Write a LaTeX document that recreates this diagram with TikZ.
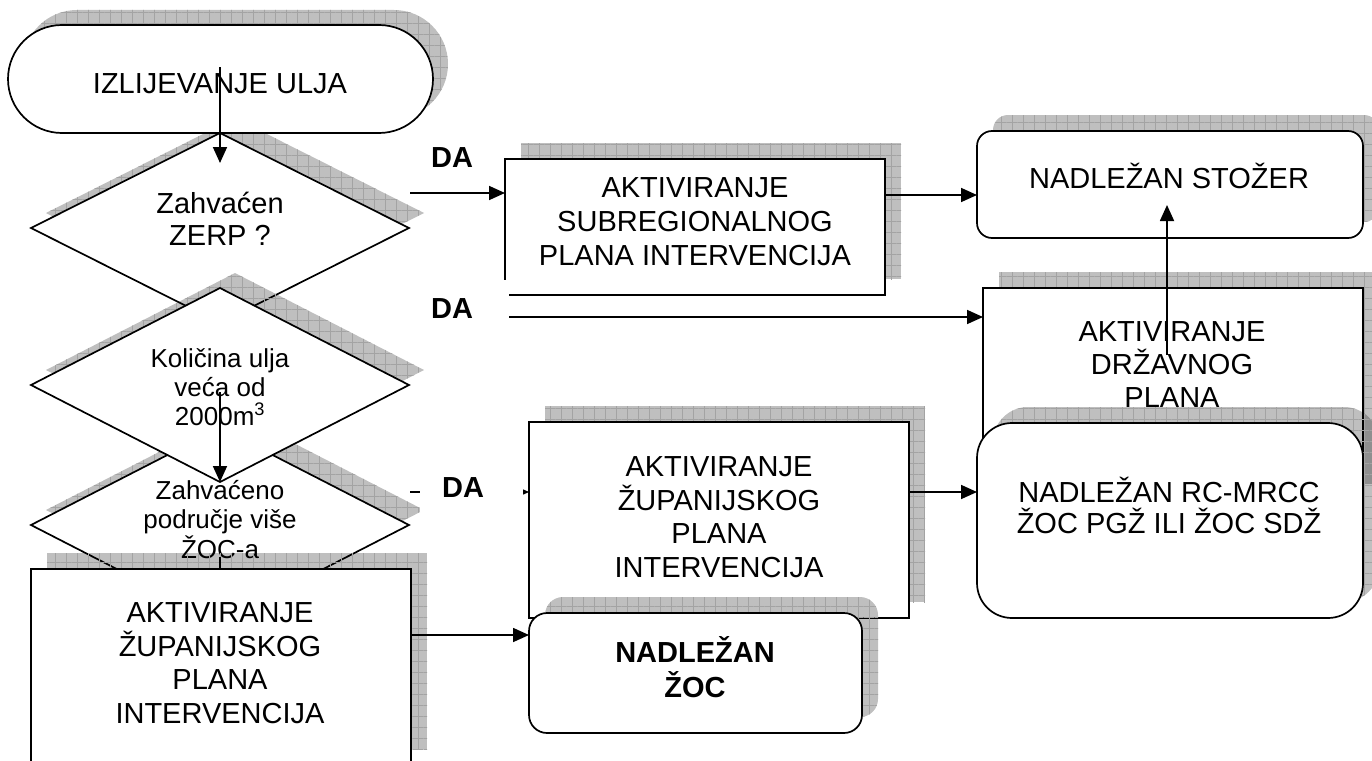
\documentclass[tikz,border=0pt]{standalone}
\usepackage{fontspec}
\setmainfont{Liberation Sans}
\usetikzlibrary{shapes.geometric,shapes.misc,shadows,patterns.meta,arrows.meta}
\begin{document}
\begin{tikzpicture}[x=1pt,y=-1pt,
  shp/.style={draw=black, line width=1.7pt, fill=white, inner sep=0pt, outer sep=0pt},
  sh/.style={
    general shadow={shadow xshift=#1, shadow yshift=#1, draw=none, fill=black, fill opacity=0.25},
    general shadow={shadow xshift=#1, shadow yshift=#1, draw=none,
      pattern={Hatch[angle=0,distance=11pt,line width=0.6pt]}, pattern color=black!36}},
  sh/.default=16pt,
  box/.style={shp, rectangle},
  rbox/.style={shp, rectangle, rounded corners=#1},
  dia/.style={shp, diamond, shape aspect=2},
  txt/.style={anchor=base, align=center, inner sep=0pt, font=\fontsize{29}{33.5}\selectfont},
  stxt/.style={anchor=base, align=center, inner sep=0pt, font=\fontsize{26}{29.5}\selectfont},
  lbl/.style={anchor=base, inner sep=0pt, font=\fontsize{29}{33}\selectfont\bfseries},
  arr/.style={line width=1.7pt, -{Triangle[length=16pt,width=14pt]}},
  ln/.style={line width=1.7pt}
]
\useasboundingbox (0,0) rectangle (1372,760);
\fill[white] (0,0) rectangle (1372,760);
\clip (0,0) rectangle (1372,760);

% ---- left column ----
\node[dia, sh=15pt, minimum width=378pt, minimum height=190pt] (d1) at (220,228) {};
\node[txt, font=\fontsize{29}{32}\selectfont] (d1t) at (220,245) {Zahvaćen\\ZERP ?};

\node[shp, rounded rectangle, sh=15pt, minimum width=425pt, minimum height=108pt] (term) at (220.5,79) {};
\node[txt] (termt) at (220,93) {IZLIJEVANJE ULJA};

\node[dia, sh=15pt, minimum width=378pt, minimum height=194pt] (d3) at (220,525) {};
\node[stxt] (d3t) at (220,558) {Zahvaćeno\\područje više\\ŽOC-a};

\node[dia, sh=15pt, minimum width=378pt, minimum height=194pt] (d2) at (220,385) {};
\node[stxt, font=\fontsize{26}{29}\selectfont] (d2t) at (220,425) {Količina ulja\\veća od\\2000m\textsuperscript{3}};

\node[box, sh, minimum width=380pt, minimum height=196pt] (lz) at (221,667) {};
\node[txt] (lzt) at (220,723) {AKTIVIRANJE\\ŽUPANIJSKOG\\PLANA\\INTERVENCIJA};

% ---- middle / right ----
\node[box, draw=none, sh, minimum width=380pt, minimum height=136pt] (sub) at (695,227) {};
\draw[ln] ([xshift=4pt]sub.south west) -- (sub.south east) -- (sub.north east) -- (sub.north west) -- ([yshift=15pt]sub.south west);
\node[txt, font=\fontsize{29}{34}\selectfont] (subt) at (695,265) {AKTIVIRANJE\\SUBREGIONALNOG\\PLANA INTERVENCIJA};

\node[rbox=15pt, sh, minimum width=386pt, minimum height=107pt] (st) at (1170,184.5) {};
\node[txt] (stt) at (1169,188) {NADLEŽAN STOŽER};

\node[box, sh, minimum width=380pt, minimum height=212pt] (dr) at (1173,394) {};
\node[txt, font=\fontsize{29}{33}\selectfont] (drt) at (1172,407) {AKTIVIRANJE\\DRŽAVNOG\\PLANA};

\node[box, sh, minimum width=380pt, minimum height=196pt] (zr) at (719,520) {};
\node[txt] (zrt) at (719,577) {AKTIVIRANJE\\ŽUPANIJSKOG\\PLANA\\INTERVENCIJA};

\node[rbox=35pt, sh, minimum width=386pt, minimum height=195pt] (rc) at (1170,520.5) {};
\node[txt, font=\fontsize{29}{30.5}\selectfont] (rct) at (1169,533) {NADLEŽAN RC-MRCC\\ŽOC PGŽ ILI ŽOC SDŽ};

\node[rbox=18pt, sh, minimum width=333pt, minimum height=120pt] (nz) at (695.5,673) {};
\node[txt, font=\fontsize{29}{35}\selectfont\bfseries] (nzt) at (695,697) {NADLEŽAN\\ŽOC};

% ---- connectors ----
\coordinate (a1s) at (220,67);
\coordinate (a1e) at (220,163);
\draw[arr] (a1s) -- (a1e);

\coordinate (a2s) at (220,392);
\draw[arr] (a2s) -- (d2.south);

\coordinate (a3s) at (220,557);
\draw[ln] (a3s) -- (a3s |- lz.north);

\coordinate (c1) at (410,193);
\draw[arr] (c1) -- (c1 -| sub.west);
\node[lbl] (da1) at (452,167) {DA};

\coordinate (c2) at (509,317);
\draw[arr] (c2) -- (c2 -| dr.west);
\node[lbl] (da2) at (452,318) {DA};

\coordinate (c3) at (410,492);
\draw[arr] (c3) -- (c3 -| zr.west);
\fill[white] (420,468) rectangle (523,512);
\node[lbl] (da3) at (463,497) {DA};

\coordinate (c4) at (0,195);
\draw[arr] (c4 -| sub.east) -- (c4 -| st.west);

\coordinate (c5s) at (1167,355);
\coordinate (c5e) at (1167,205);
\draw[arr] (c5s) -- (c5e);

\coordinate (c6) at (0,492);
\draw[arr] (c6 -| zr.east) -- (c6 -| rc.west);

\coordinate (c7) at (0,635);
\draw[arr] (c7 -| lz.east) -- (c7 -| nz.west);
\end{tikzpicture}
\end{document}
